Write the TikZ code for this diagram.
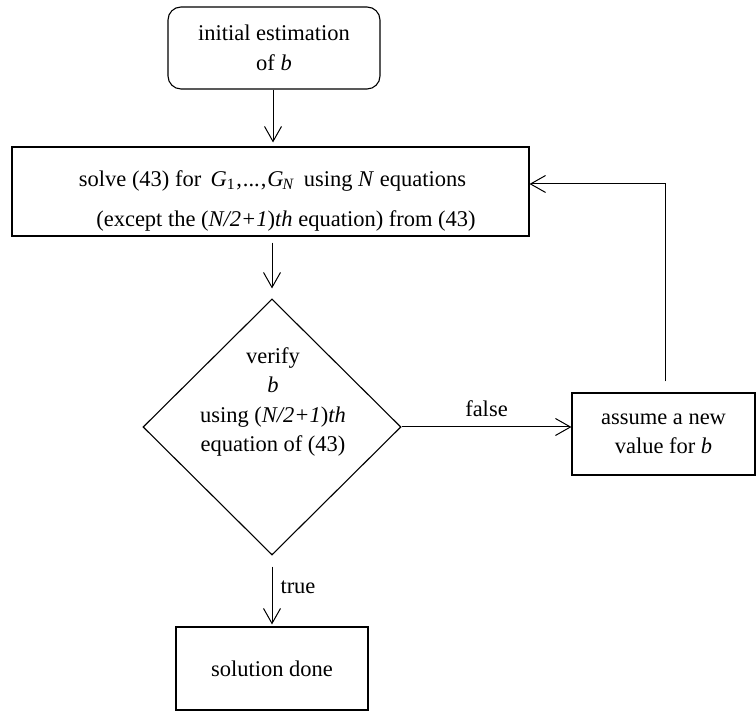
\documentclass[tikz,border=0pt]{standalone}
\usepackage{fontspec}
\setmainfont{Liberation Serif}
\usetikzlibrary{arrows.meta,shapes.geometric}
\begin{document}
\begin{tikzpicture}[x=1pt,y=1pt,
  every node/.style={font=\fontsize{22.5}{29.5}\selectfont},
  box/.style={draw,line width=1.1pt,inner sep=0pt},
  txt/.style={inner sep=0pt,align=center},
  conn/.style={line width=1pt,-{Straight Barb[length=15pt,width=17pt,line width=1pt]}}]
\useasboundingbox (0,0) rectangle (756,712);
% nodes
\node[box,rounded corners=13pt,minimum width=212,minimum height=82,align=center] (init) at (274,664) {initial estimation\\of \textit{b}};
\node[box,minimum width=517,minimum height=89] (solve) at (270.5,520.5) {};
\node[txt] (s1) at (272.5,531) {solve (43) for \,\textit{G}\textsubscript{1}\kern1pt,\kern1pt...\kern1pt,\kern1pt\textit{G}\textsubscript{\kern-1pt\textit{N}}\, using \textit{N} equations};
\node[txt] (s2) at (286,491) {(except the (\textit{N/2+1})\textit{th} equation) from (43)};
\node[draw,line width=1.1pt,diamond,minimum width=258,minimum height=256,inner sep=0pt] (ver) at (272,285) {};
\node[txt] (vt) at (273,310) {verify\\\textit{b}\\using (\textit{N/2+1})\textit{th}\\equation of (43)};
\node[box,minimum width=183,minimum height=82,align=center] (assume) at (663.5,278) {assume a new\\value for \textit{b}};
\node[box,minimum width=192,minimum height=83] (done) at (272,43.5) {solution done};
\coordinate (fb) at (665,528);
% connectors
\draw[conn,shorten >=4pt] (init.south -| 273,0) -- (273,0 |- solve.north);
\draw[conn,shorten <=6pt,shorten >=10pt] (272,0 |- solve.south) -- (ver.north);
\draw[conn] (ver.east) -- (ver.east -| assume.west) node[midway,above=10pt,txt] (fl) {false};
\draw[conn,shorten <=11pt] (assume.north -| fb) -- (fb) -- (solve.east |- fb);
\draw[conn,shorten <=11pt,shorten >=2pt] (ver.south) -- (done.north) node[pos=0.45,right=8pt,txt] (tr) {true};
\end{tikzpicture}
\end{document}
